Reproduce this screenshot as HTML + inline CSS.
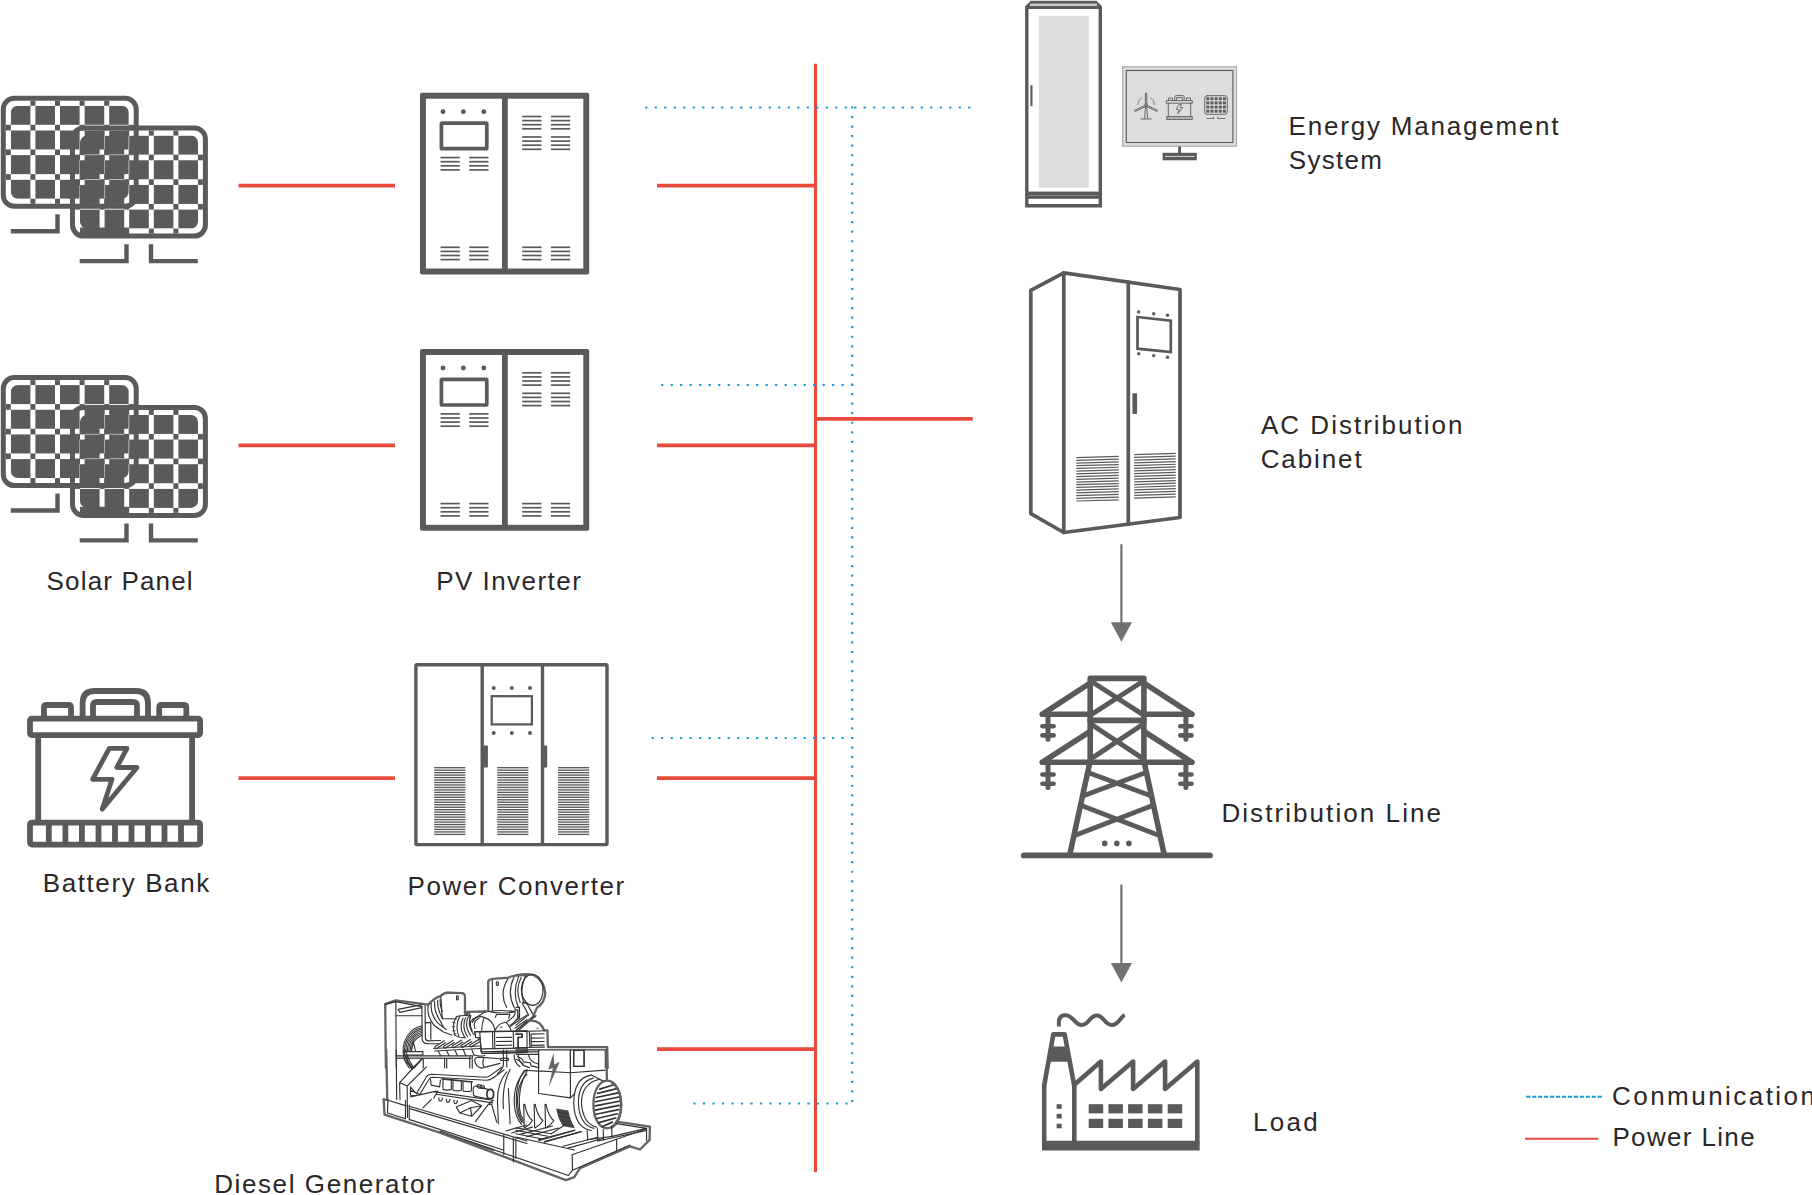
<!DOCTYPE html>
<html lang="en">
<head>
<meta charset="utf-8">
<title>Microgrid System Diagram</title>
<style>
html,body{margin:0;padding:0;background:#fff;}
body{width:1812px;height:1195px;overflow:hidden;position:relative;font-family:"Liberation Sans",sans-serif;}
svg{position:absolute;left:0;top:0;display:block;}
text{font-family:"Liberation Sans",sans-serif;font-size:26px;fill:#2b2728;}
</style>
</head>
<body>
<svg width="1812" height="1195" viewBox="0 0 1812 1195">
<g id="power-lines" stroke="#e84a3b" fill="none">
<line x1="815.5" y1="63.7" x2="815.5" y2="1172.3" stroke-width="3.1"/>
<line x1="657" y1="185.6" x2="815" y2="185.6" stroke-width="3.8"/>
<line x1="657" y1="445.3" x2="815" y2="445.3" stroke-width="3.8"/>
<line x1="657" y1="778.1" x2="815" y2="778.1" stroke-width="3.8"/>
<line x1="657" y1="1049.2" x2="815" y2="1049.2" stroke-width="3.8"/>
<line x1="238.5" y1="185.6" x2="395" y2="185.6" stroke-width="3.8"/>
<line x1="238.5" y1="445.3" x2="395" y2="445.3" stroke-width="3.8"/>
<line x1="238.5" y1="778.1" x2="395" y2="778.1" stroke-width="3.8"/>
<line x1="815" y1="418.9" x2="972.7" y2="418.9" stroke-width="3.8"/>
</g>
<g id="comm-lines" stroke="#189bd7" fill="none" stroke-width="2.2" stroke-dasharray="2.2 7.3">
<line x1="645.2" y1="107.5" x2="971" y2="107.5"/>
<line x1="852.2" y1="106.4" x2="852.2" y2="1102.6" stroke-dasharray="2.2 7.353"/>
<line x1="853.3" y1="385" x2="659.5" y2="385"/>
<line x1="853.3" y1="738" x2="651" y2="738"/>
<line x1="693.4" y1="1103.5" x2="848.5" y2="1103.5"/>
</g>
<g id="solar-1">
<rect x="3.3" y="98.3" width="132.9" height="108" rx="11" ry="11" fill="none" stroke="#5b5a5a" stroke-width="5"/>
<clipPath id="cpa1"><rect x="10.8" y="105.8" width="118" height="93.01" rx="7" ry="7"/></clipPath>
<g clip-path="url(#cpa1)" fill="#5b5a5a">
<rect x="10.8" y="105.8" width="19.6" height="19"/>
<rect x="35.4" y="105.8" width="19.6" height="19"/>
<rect x="60" y="105.8" width="19.6" height="19"/>
<rect x="84.6" y="105.8" width="19.6" height="19"/>
<rect x="109.2" y="105.8" width="19.6" height="19"/>
<rect x="10.8" y="130.47" width="19.6" height="19"/>
<rect x="35.4" y="130.47" width="19.6" height="19"/>
<rect x="60" y="130.47" width="19.6" height="19"/>
<rect x="84.6" y="130.47" width="19.6" height="19"/>
<rect x="109.2" y="130.47" width="19.6" height="19"/>
<rect x="10.8" y="155.14" width="19.6" height="19"/>
<rect x="35.4" y="155.14" width="19.6" height="19"/>
<rect x="60" y="155.14" width="19.6" height="19"/>
<rect x="84.6" y="155.14" width="19.6" height="19"/>
<rect x="109.2" y="155.14" width="19.6" height="19"/>
<rect x="10.8" y="179.81" width="19.6" height="19"/>
<rect x="35.4" y="179.81" width="19.6" height="19"/>
<rect x="60" y="179.81" width="19.6" height="19"/>
<rect x="84.6" y="179.81" width="19.6" height="19"/>
<rect x="109.2" y="179.81" width="19.6" height="19"/>
</g>
<g fill="#5b5a5a">
<rect x="5.8" y="124.8" width="5" height="5.67"/>
<rect x="5.8" y="149.47" width="5" height="5.67"/>
<rect x="5.8" y="174.14" width="5" height="5.67"/>
<rect x="30.4" y="100.8" width="5" height="5"/>
<rect x="30.4" y="124.8" width="5" height="5.67"/>
<rect x="30.4" y="149.47" width="5" height="5.67"/>
<rect x="30.4" y="174.14" width="5" height="5.67"/>
<rect x="30.4" y="198.8" width="5" height="5"/>
<rect x="55" y="100.8" width="5" height="5"/>
<rect x="55" y="124.8" width="5" height="5.67"/>
<rect x="55" y="149.47" width="5" height="5.67"/>
<rect x="55" y="174.14" width="5" height="5.67"/>
<rect x="55" y="198.8" width="5" height="5"/>
<rect x="79.6" y="100.8" width="5" height="5"/>
<rect x="79.6" y="124.8" width="5" height="5.67"/>
<rect x="79.6" y="149.47" width="5" height="5.67"/>
<rect x="79.6" y="174.14" width="5" height="5.67"/>
<rect x="79.6" y="198.8" width="5" height="5"/>
<rect x="104.2" y="100.8" width="5" height="5"/>
<rect x="104.2" y="124.8" width="5" height="5.67"/>
<rect x="104.2" y="149.47" width="5" height="5.67"/>
<rect x="104.2" y="174.14" width="5" height="5.67"/>
<rect x="104.2" y="198.8" width="5" height="5"/>
<rect x="128.7" y="124.8" width="5" height="5.67"/>
<rect x="128.7" y="149.47" width="5" height="5.67"/>
<rect x="128.7" y="174.14" width="5" height="5.67"/>
</g>
<rect x="72.5" y="128.1" width="132.9" height="108" rx="11" ry="11" fill="none" stroke="#5b5a5a" stroke-width="5"/>
<clipPath id="cpb1"><rect x="80" y="135.6" width="118" height="93.01" rx="7" ry="7"/></clipPath>
<g clip-path="url(#cpb1)" fill="#5b5a5a">
<rect x="80" y="135.6" width="19.6" height="19"/>
<rect x="104.6" y="135.6" width="19.6" height="19"/>
<rect x="129.2" y="135.6" width="19.6" height="19"/>
<rect x="153.8" y="135.6" width="19.6" height="19"/>
<rect x="178.4" y="135.6" width="19.6" height="19"/>
<rect x="80" y="160.27" width="19.6" height="19"/>
<rect x="104.6" y="160.27" width="19.6" height="19"/>
<rect x="129.2" y="160.27" width="19.6" height="19"/>
<rect x="153.8" y="160.27" width="19.6" height="19"/>
<rect x="178.4" y="160.27" width="19.6" height="19"/>
<rect x="80" y="184.94" width="19.6" height="19"/>
<rect x="104.6" y="184.94" width="19.6" height="19"/>
<rect x="129.2" y="184.94" width="19.6" height="19"/>
<rect x="153.8" y="184.94" width="19.6" height="19"/>
<rect x="178.4" y="184.94" width="19.6" height="19"/>
<rect x="80" y="209.61" width="19.6" height="19"/>
<rect x="104.6" y="209.61" width="19.6" height="19"/>
<rect x="129.2" y="209.61" width="19.6" height="19"/>
<rect x="153.8" y="209.61" width="19.6" height="19"/>
<rect x="178.4" y="209.61" width="19.6" height="19"/>
</g>
<g fill="#5b5a5a">
<rect x="75" y="154.6" width="5" height="5.67"/>
<rect x="75" y="179.27" width="5" height="5.67"/>
<rect x="75" y="203.94" width="5" height="5.67"/>
<rect x="99.6" y="130.6" width="5" height="5"/>
<rect x="99.6" y="154.6" width="5" height="5.67"/>
<rect x="99.6" y="179.27" width="5" height="5.67"/>
<rect x="99.6" y="203.94" width="5" height="5.67"/>
<rect x="99.6" y="228.6" width="5" height="5"/>
<rect x="124.2" y="130.6" width="5" height="5"/>
<rect x="124.2" y="154.6" width="5" height="5.67"/>
<rect x="124.2" y="179.27" width="5" height="5.67"/>
<rect x="124.2" y="203.94" width="5" height="5.67"/>
<rect x="124.2" y="228.6" width="5" height="5"/>
<rect x="148.8" y="130.6" width="5" height="5"/>
<rect x="148.8" y="154.6" width="5" height="5.67"/>
<rect x="148.8" y="179.27" width="5" height="5.67"/>
<rect x="148.8" y="203.94" width="5" height="5.67"/>
<rect x="148.8" y="228.6" width="5" height="5"/>
<rect x="173.4" y="130.6" width="5" height="5"/>
<rect x="173.4" y="154.6" width="5" height="5.67"/>
<rect x="173.4" y="179.27" width="5" height="5.67"/>
<rect x="173.4" y="203.94" width="5" height="5.67"/>
<rect x="173.4" y="228.6" width="5" height="5"/>
<rect x="197.9" y="154.6" width="5" height="5.67"/>
<rect x="197.9" y="179.27" width="5" height="5.67"/>
<rect x="197.9" y="203.94" width="5" height="5.67"/>
</g>
<rect x="80" y="227.5" width="49" height="6.5" fill="#5b5a5a"/>
<g fill="none" stroke="#5b5a5a" stroke-width="4.4">
<polyline points="10.8,231.2 57.5,231.2 57.5,214.2"/>
<polyline points="79.7,261.1 126.5,261.1 126.5,244.2"/>
<polyline points="197.8,261.1 151,261.1 151,244.2"/>
</g>
</g>
<g id="solar-2">
<rect x="3.3" y="377.6" width="132.9" height="108" rx="11" ry="11" fill="none" stroke="#5b5a5a" stroke-width="5"/>
<clipPath id="cpa2"><rect x="10.8" y="385.1" width="118" height="93.01" rx="7" ry="7"/></clipPath>
<g clip-path="url(#cpa2)" fill="#5b5a5a">
<rect x="10.8" y="385.1" width="19.6" height="19"/>
<rect x="35.4" y="385.1" width="19.6" height="19"/>
<rect x="60" y="385.1" width="19.6" height="19"/>
<rect x="84.6" y="385.1" width="19.6" height="19"/>
<rect x="109.2" y="385.1" width="19.6" height="19"/>
<rect x="10.8" y="409.77" width="19.6" height="19"/>
<rect x="35.4" y="409.77" width="19.6" height="19"/>
<rect x="60" y="409.77" width="19.6" height="19"/>
<rect x="84.6" y="409.77" width="19.6" height="19"/>
<rect x="109.2" y="409.77" width="19.6" height="19"/>
<rect x="10.8" y="434.44" width="19.6" height="19"/>
<rect x="35.4" y="434.44" width="19.6" height="19"/>
<rect x="60" y="434.44" width="19.6" height="19"/>
<rect x="84.6" y="434.44" width="19.6" height="19"/>
<rect x="109.2" y="434.44" width="19.6" height="19"/>
<rect x="10.8" y="459.11" width="19.6" height="19"/>
<rect x="35.4" y="459.11" width="19.6" height="19"/>
<rect x="60" y="459.11" width="19.6" height="19"/>
<rect x="84.6" y="459.11" width="19.6" height="19"/>
<rect x="109.2" y="459.11" width="19.6" height="19"/>
</g>
<g fill="#5b5a5a">
<rect x="5.8" y="404.1" width="5" height="5.67"/>
<rect x="5.8" y="428.77" width="5" height="5.67"/>
<rect x="5.8" y="453.44" width="5" height="5.67"/>
<rect x="30.4" y="380.1" width="5" height="5"/>
<rect x="30.4" y="404.1" width="5" height="5.67"/>
<rect x="30.4" y="428.77" width="5" height="5.67"/>
<rect x="30.4" y="453.44" width="5" height="5.67"/>
<rect x="30.4" y="478.1" width="5" height="5"/>
<rect x="55" y="380.1" width="5" height="5"/>
<rect x="55" y="404.1" width="5" height="5.67"/>
<rect x="55" y="428.77" width="5" height="5.67"/>
<rect x="55" y="453.44" width="5" height="5.67"/>
<rect x="55" y="478.1" width="5" height="5"/>
<rect x="79.6" y="380.1" width="5" height="5"/>
<rect x="79.6" y="404.1" width="5" height="5.67"/>
<rect x="79.6" y="428.77" width="5" height="5.67"/>
<rect x="79.6" y="453.44" width="5" height="5.67"/>
<rect x="79.6" y="478.1" width="5" height="5"/>
<rect x="104.2" y="380.1" width="5" height="5"/>
<rect x="104.2" y="404.1" width="5" height="5.67"/>
<rect x="104.2" y="428.77" width="5" height="5.67"/>
<rect x="104.2" y="453.44" width="5" height="5.67"/>
<rect x="104.2" y="478.1" width="5" height="5"/>
<rect x="128.7" y="404.1" width="5" height="5.67"/>
<rect x="128.7" y="428.77" width="5" height="5.67"/>
<rect x="128.7" y="453.44" width="5" height="5.67"/>
</g>
<rect x="72.5" y="407.4" width="132.9" height="108" rx="11" ry="11" fill="none" stroke="#5b5a5a" stroke-width="5"/>
<clipPath id="cpb2"><rect x="80" y="414.9" width="118" height="93.01" rx="7" ry="7"/></clipPath>
<g clip-path="url(#cpb2)" fill="#5b5a5a">
<rect x="80" y="414.9" width="19.6" height="19"/>
<rect x="104.6" y="414.9" width="19.6" height="19"/>
<rect x="129.2" y="414.9" width="19.6" height="19"/>
<rect x="153.8" y="414.9" width="19.6" height="19"/>
<rect x="178.4" y="414.9" width="19.6" height="19"/>
<rect x="80" y="439.57" width="19.6" height="19"/>
<rect x="104.6" y="439.57" width="19.6" height="19"/>
<rect x="129.2" y="439.57" width="19.6" height="19"/>
<rect x="153.8" y="439.57" width="19.6" height="19"/>
<rect x="178.4" y="439.57" width="19.6" height="19"/>
<rect x="80" y="464.24" width="19.6" height="19"/>
<rect x="104.6" y="464.24" width="19.6" height="19"/>
<rect x="129.2" y="464.24" width="19.6" height="19"/>
<rect x="153.8" y="464.24" width="19.6" height="19"/>
<rect x="178.4" y="464.24" width="19.6" height="19"/>
<rect x="80" y="488.91" width="19.6" height="19"/>
<rect x="104.6" y="488.91" width="19.6" height="19"/>
<rect x="129.2" y="488.91" width="19.6" height="19"/>
<rect x="153.8" y="488.91" width="19.6" height="19"/>
<rect x="178.4" y="488.91" width="19.6" height="19"/>
</g>
<g fill="#5b5a5a">
<rect x="75" y="433.9" width="5" height="5.67"/>
<rect x="75" y="458.57" width="5" height="5.67"/>
<rect x="75" y="483.24" width="5" height="5.67"/>
<rect x="99.6" y="409.9" width="5" height="5"/>
<rect x="99.6" y="433.9" width="5" height="5.67"/>
<rect x="99.6" y="458.57" width="5" height="5.67"/>
<rect x="99.6" y="483.24" width="5" height="5.67"/>
<rect x="99.6" y="507.9" width="5" height="5"/>
<rect x="124.2" y="409.9" width="5" height="5"/>
<rect x="124.2" y="433.9" width="5" height="5.67"/>
<rect x="124.2" y="458.57" width="5" height="5.67"/>
<rect x="124.2" y="483.24" width="5" height="5.67"/>
<rect x="124.2" y="507.9" width="5" height="5"/>
<rect x="148.8" y="409.9" width="5" height="5"/>
<rect x="148.8" y="433.9" width="5" height="5.67"/>
<rect x="148.8" y="458.57" width="5" height="5.67"/>
<rect x="148.8" y="483.24" width="5" height="5.67"/>
<rect x="148.8" y="507.9" width="5" height="5"/>
<rect x="173.4" y="409.9" width="5" height="5"/>
<rect x="173.4" y="433.9" width="5" height="5.67"/>
<rect x="173.4" y="458.57" width="5" height="5.67"/>
<rect x="173.4" y="483.24" width="5" height="5.67"/>
<rect x="173.4" y="507.9" width="5" height="5"/>
<rect x="197.9" y="433.9" width="5" height="5.67"/>
<rect x="197.9" y="458.57" width="5" height="5.67"/>
<rect x="197.9" y="483.24" width="5" height="5.67"/>
</g>
<rect x="80" y="506.8" width="49" height="6.5" fill="#5b5a5a"/>
<g fill="none" stroke="#5b5a5a" stroke-width="4.4">
<polyline points="10.8,510.5 57.5,510.5 57.5,493.5"/>
<polyline points="79.7,540.4 126.5,540.4 126.5,523.5"/>
<polyline points="197.8,540.4 151,540.4 151,523.5"/>
</g>
</g>
<g id="pv-inverter-1">
<rect x="420" y="92.8" width="169.2" height="181.6" rx="2" fill="#5b5a5a"/>
<rect x="425.9" y="98.7" width="76.1" height="169.8" fill="#fff"/>
<rect x="507.8" y="98.7" width="75.5" height="169.8" fill="#fff"/>
<circle cx="443" cy="111.7" r="2.4" fill="#5b5a5a"/>
<circle cx="463.4" cy="111.7" r="2.4" fill="#5b5a5a"/>
<circle cx="483.8" cy="111.7" r="2.4" fill="#5b5a5a"/>
<rect x="441.4" y="123.1" width="45.4" height="25.6" rx="1" fill="none" stroke="#5b5a5a" stroke-width="3.7" stroke-linejoin="round"/>
<g stroke="#5b5a5a" stroke-width="1.7" fill="none">
<line x1="440.5" y1="157.6" x2="459.8" y2="157.6"/><line x1="440.5" y1="161.7" x2="459.8" y2="161.7"/><line x1="440.5" y1="165.8" x2="459.8" y2="165.8"/><line x1="440.5" y1="169.9" x2="459.8" y2="169.9"/>
<line x1="440.5" y1="247.3" x2="459.8" y2="247.3"/><line x1="440.5" y1="251.4" x2="459.8" y2="251.4"/><line x1="440.5" y1="255.5" x2="459.8" y2="255.5"/><line x1="440.5" y1="259.6" x2="459.8" y2="259.6"/>
<line x1="469.2" y1="157.6" x2="488.5" y2="157.6"/><line x1="469.2" y1="161.7" x2="488.5" y2="161.7"/><line x1="469.2" y1="165.8" x2="488.5" y2="165.8"/><line x1="469.2" y1="169.9" x2="488.5" y2="169.9"/>
<line x1="469.2" y1="247.3" x2="488.5" y2="247.3"/><line x1="469.2" y1="251.4" x2="488.5" y2="251.4"/><line x1="469.2" y1="255.5" x2="488.5" y2="255.5"/><line x1="469.2" y1="259.6" x2="488.5" y2="259.6"/>
<line x1="522.2" y1="116.5" x2="541.5" y2="116.5"/><line x1="522.2" y1="120.6" x2="541.5" y2="120.6"/><line x1="522.2" y1="124.7" x2="541.5" y2="124.7"/><line x1="522.2" y1="128.8" x2="541.5" y2="128.8"/>
<line x1="522.2" y1="137" x2="541.5" y2="137"/><line x1="522.2" y1="141.1" x2="541.5" y2="141.1"/><line x1="522.2" y1="145.2" x2="541.5" y2="145.2"/><line x1="522.2" y1="149.3" x2="541.5" y2="149.3"/>
<line x1="522.2" y1="247.3" x2="541.5" y2="247.3"/><line x1="522.2" y1="251.4" x2="541.5" y2="251.4"/><line x1="522.2" y1="255.5" x2="541.5" y2="255.5"/><line x1="522.2" y1="259.6" x2="541.5" y2="259.6"/>
<line x1="550.9" y1="116.5" x2="570.2" y2="116.5"/><line x1="550.9" y1="120.6" x2="570.2" y2="120.6"/><line x1="550.9" y1="124.7" x2="570.2" y2="124.7"/><line x1="550.9" y1="128.8" x2="570.2" y2="128.8"/>
<line x1="550.9" y1="137" x2="570.2" y2="137"/><line x1="550.9" y1="141.1" x2="570.2" y2="141.1"/><line x1="550.9" y1="145.2" x2="570.2" y2="145.2"/><line x1="550.9" y1="149.3" x2="570.2" y2="149.3"/>
<line x1="550.9" y1="247.3" x2="570.2" y2="247.3"/><line x1="550.9" y1="251.4" x2="570.2" y2="251.4"/><line x1="550.9" y1="255.5" x2="570.2" y2="255.5"/><line x1="550.9" y1="259.6" x2="570.2" y2="259.6"/>
</g>
</g>
<g id="pv-inverter-2">
<rect x="420" y="349.1" width="169.2" height="181.6" rx="2" fill="#5b5a5a"/>
<rect x="425.9" y="355" width="76.1" height="169.8" fill="#fff"/>
<rect x="507.8" y="355" width="75.5" height="169.8" fill="#fff"/>
<circle cx="443" cy="368" r="2.4" fill="#5b5a5a"/>
<circle cx="463.4" cy="368" r="2.4" fill="#5b5a5a"/>
<circle cx="483.8" cy="368" r="2.4" fill="#5b5a5a"/>
<rect x="441.4" y="379.4" width="45.4" height="25.6" rx="1" fill="none" stroke="#5b5a5a" stroke-width="3.7" stroke-linejoin="round"/>
<g stroke="#5b5a5a" stroke-width="1.7" fill="none">
<line x1="440.5" y1="413.9" x2="459.8" y2="413.9"/><line x1="440.5" y1="418" x2="459.8" y2="418"/><line x1="440.5" y1="422.1" x2="459.8" y2="422.1"/><line x1="440.5" y1="426.2" x2="459.8" y2="426.2"/>
<line x1="440.5" y1="503.6" x2="459.8" y2="503.6"/><line x1="440.5" y1="507.7" x2="459.8" y2="507.7"/><line x1="440.5" y1="511.8" x2="459.8" y2="511.8"/><line x1="440.5" y1="515.9" x2="459.8" y2="515.9"/>
<line x1="469.2" y1="413.9" x2="488.5" y2="413.9"/><line x1="469.2" y1="418" x2="488.5" y2="418"/><line x1="469.2" y1="422.1" x2="488.5" y2="422.1"/><line x1="469.2" y1="426.2" x2="488.5" y2="426.2"/>
<line x1="469.2" y1="503.6" x2="488.5" y2="503.6"/><line x1="469.2" y1="507.7" x2="488.5" y2="507.7"/><line x1="469.2" y1="511.8" x2="488.5" y2="511.8"/><line x1="469.2" y1="515.9" x2="488.5" y2="515.9"/>
<line x1="522.2" y1="372.8" x2="541.5" y2="372.8"/><line x1="522.2" y1="376.9" x2="541.5" y2="376.9"/><line x1="522.2" y1="381" x2="541.5" y2="381"/><line x1="522.2" y1="385.1" x2="541.5" y2="385.1"/>
<line x1="522.2" y1="393.3" x2="541.5" y2="393.3"/><line x1="522.2" y1="397.4" x2="541.5" y2="397.4"/><line x1="522.2" y1="401.5" x2="541.5" y2="401.5"/><line x1="522.2" y1="405.6" x2="541.5" y2="405.6"/>
<line x1="522.2" y1="503.6" x2="541.5" y2="503.6"/><line x1="522.2" y1="507.7" x2="541.5" y2="507.7"/><line x1="522.2" y1="511.8" x2="541.5" y2="511.8"/><line x1="522.2" y1="515.9" x2="541.5" y2="515.9"/>
<line x1="550.9" y1="372.8" x2="570.2" y2="372.8"/><line x1="550.9" y1="376.9" x2="570.2" y2="376.9"/><line x1="550.9" y1="381" x2="570.2" y2="381"/><line x1="550.9" y1="385.1" x2="570.2" y2="385.1"/>
<line x1="550.9" y1="393.3" x2="570.2" y2="393.3"/><line x1="550.9" y1="397.4" x2="570.2" y2="397.4"/><line x1="550.9" y1="401.5" x2="570.2" y2="401.5"/><line x1="550.9" y1="405.6" x2="570.2" y2="405.6"/>
<line x1="550.9" y1="503.6" x2="570.2" y2="503.6"/><line x1="550.9" y1="507.7" x2="570.2" y2="507.7"/><line x1="550.9" y1="511.8" x2="570.2" y2="511.8"/><line x1="550.9" y1="515.9" x2="570.2" y2="515.9"/>
</g>
</g>
<g id="power-converter">
<rect x="415.9" y="664.7" width="191.1" height="179.9" rx="1" fill="#fff" stroke="#5b5a5a" stroke-width="3.4" stroke-linejoin="round"/>
<line x1="482.2" y1="664" x2="482.2" y2="845.3" stroke="#5b5a5a" stroke-width="3.4"/>
<line x1="542.5" y1="664" x2="542.5" y2="845.3" stroke="#5b5a5a" stroke-width="3.4"/>
<circle cx="493.7" cy="688" r="2" fill="#5b5a5a"/>
<circle cx="511.8" cy="688" r="2" fill="#5b5a5a"/>
<circle cx="530" cy="688" r="2" fill="#5b5a5a"/>
<circle cx="493.7" cy="733" r="2" fill="#5b5a5a"/>
<circle cx="511.8" cy="733" r="2" fill="#5b5a5a"/>
<circle cx="530" cy="733" r="2" fill="#5b5a5a"/>
<rect x="491.7" y="696.2" width="40.2" height="28.2" fill="none" stroke="#5b5a5a" stroke-width="2.3"/>
<rect x="482.6" y="745.5" width="5.3" height="22" rx="0.8" fill="#5b5a5a"/>
<rect x="542.6" y="745.5" width="4.6" height="22" rx="0.8" fill="#5b5a5a"/>
<g stroke="#5b5a5a" stroke-width="1.35" fill="none">
<line x1="434.2" y1="767.7" x2="465.4" y2="767.7"/><line x1="434.2" y1="770.17" x2="465.4" y2="770.17"/><line x1="434.2" y1="772.64" x2="465.4" y2="772.64"/><line x1="434.2" y1="775.11" x2="465.4" y2="775.11"/><line x1="434.2" y1="777.58" x2="465.4" y2="777.58"/><line x1="434.2" y1="780.05" x2="465.4" y2="780.05"/><line x1="434.2" y1="782.52" x2="465.4" y2="782.52"/><line x1="434.2" y1="784.99" x2="465.4" y2="784.99"/><line x1="434.2" y1="787.46" x2="465.4" y2="787.46"/><line x1="434.2" y1="789.93" x2="465.4" y2="789.93"/><line x1="434.2" y1="792.4" x2="465.4" y2="792.4"/><line x1="434.2" y1="794.87" x2="465.4" y2="794.87"/><line x1="434.2" y1="797.34" x2="465.4" y2="797.34"/><line x1="434.2" y1="799.81" x2="465.4" y2="799.81"/><line x1="434.2" y1="802.29" x2="465.4" y2="802.29"/><line x1="434.2" y1="804.76" x2="465.4" y2="804.76"/><line x1="434.2" y1="807.23" x2="465.4" y2="807.23"/><line x1="434.2" y1="809.7" x2="465.4" y2="809.7"/><line x1="434.2" y1="812.17" x2="465.4" y2="812.17"/><line x1="434.2" y1="814.64" x2="465.4" y2="814.64"/><line x1="434.2" y1="817.11" x2="465.4" y2="817.11"/><line x1="434.2" y1="819.58" x2="465.4" y2="819.58"/><line x1="434.2" y1="822.05" x2="465.4" y2="822.05"/><line x1="434.2" y1="824.52" x2="465.4" y2="824.52"/><line x1="434.2" y1="826.99" x2="465.4" y2="826.99"/><line x1="434.2" y1="829.46" x2="465.4" y2="829.46"/><line x1="434.2" y1="831.93" x2="465.4" y2="831.93"/><line x1="434.2" y1="834.4" x2="465.4" y2="834.4"/>
<line x1="497.2" y1="767.7" x2="528.4" y2="767.7"/><line x1="497.2" y1="770.17" x2="528.4" y2="770.17"/><line x1="497.2" y1="772.64" x2="528.4" y2="772.64"/><line x1="497.2" y1="775.11" x2="528.4" y2="775.11"/><line x1="497.2" y1="777.58" x2="528.4" y2="777.58"/><line x1="497.2" y1="780.05" x2="528.4" y2="780.05"/><line x1="497.2" y1="782.52" x2="528.4" y2="782.52"/><line x1="497.2" y1="784.99" x2="528.4" y2="784.99"/><line x1="497.2" y1="787.46" x2="528.4" y2="787.46"/><line x1="497.2" y1="789.93" x2="528.4" y2="789.93"/><line x1="497.2" y1="792.4" x2="528.4" y2="792.4"/><line x1="497.2" y1="794.87" x2="528.4" y2="794.87"/><line x1="497.2" y1="797.34" x2="528.4" y2="797.34"/><line x1="497.2" y1="799.81" x2="528.4" y2="799.81"/><line x1="497.2" y1="802.29" x2="528.4" y2="802.29"/><line x1="497.2" y1="804.76" x2="528.4" y2="804.76"/><line x1="497.2" y1="807.23" x2="528.4" y2="807.23"/><line x1="497.2" y1="809.7" x2="528.4" y2="809.7"/><line x1="497.2" y1="812.17" x2="528.4" y2="812.17"/><line x1="497.2" y1="814.64" x2="528.4" y2="814.64"/><line x1="497.2" y1="817.11" x2="528.4" y2="817.11"/><line x1="497.2" y1="819.58" x2="528.4" y2="819.58"/><line x1="497.2" y1="822.05" x2="528.4" y2="822.05"/><line x1="497.2" y1="824.52" x2="528.4" y2="824.52"/><line x1="497.2" y1="826.99" x2="528.4" y2="826.99"/><line x1="497.2" y1="829.46" x2="528.4" y2="829.46"/><line x1="497.2" y1="831.93" x2="528.4" y2="831.93"/><line x1="497.2" y1="834.4" x2="528.4" y2="834.4"/>
<line x1="558" y1="767.7" x2="589.2" y2="767.7"/><line x1="558" y1="770.17" x2="589.2" y2="770.17"/><line x1="558" y1="772.64" x2="589.2" y2="772.64"/><line x1="558" y1="775.11" x2="589.2" y2="775.11"/><line x1="558" y1="777.58" x2="589.2" y2="777.58"/><line x1="558" y1="780.05" x2="589.2" y2="780.05"/><line x1="558" y1="782.52" x2="589.2" y2="782.52"/><line x1="558" y1="784.99" x2="589.2" y2="784.99"/><line x1="558" y1="787.46" x2="589.2" y2="787.46"/><line x1="558" y1="789.93" x2="589.2" y2="789.93"/><line x1="558" y1="792.4" x2="589.2" y2="792.4"/><line x1="558" y1="794.87" x2="589.2" y2="794.87"/><line x1="558" y1="797.34" x2="589.2" y2="797.34"/><line x1="558" y1="799.81" x2="589.2" y2="799.81"/><line x1="558" y1="802.29" x2="589.2" y2="802.29"/><line x1="558" y1="804.76" x2="589.2" y2="804.76"/><line x1="558" y1="807.23" x2="589.2" y2="807.23"/><line x1="558" y1="809.7" x2="589.2" y2="809.7"/><line x1="558" y1="812.17" x2="589.2" y2="812.17"/><line x1="558" y1="814.64" x2="589.2" y2="814.64"/><line x1="558" y1="817.11" x2="589.2" y2="817.11"/><line x1="558" y1="819.58" x2="589.2" y2="819.58"/><line x1="558" y1="822.05" x2="589.2" y2="822.05"/><line x1="558" y1="824.52" x2="589.2" y2="824.52"/><line x1="558" y1="826.99" x2="589.2" y2="826.99"/><line x1="558" y1="829.46" x2="589.2" y2="829.46"/><line x1="558" y1="831.93" x2="589.2" y2="831.93"/><line x1="558" y1="834.4" x2="589.2" y2="834.4"/>
</g>
</g>
<g id="ems-rack">
<path d="M1026.8,205.7 L1026.8,7 L1031.5,2.4 L1095.7,2.4 L1100.3,7 L1100.3,205.7 Z" fill="#fff" stroke="#5b5a5a" stroke-width="3.4" stroke-linejoin="miter"/>
<rect x="1030" y="3.6" width="67" height="2.6" fill="#c9caca"/>
<line x1="1027" y1="7.6" x2="1100" y2="7.6" stroke="#5b5a5a" stroke-width="3"/>
<rect x="1038.9" y="15.8" width="49.9" height="171.9" fill="#dcdddd"/>
<rect x="1030.4" y="85.2" width="2.1" height="21" fill="#5b5a5a"/>
<rect x="1027" y="191.6" width="73" height="7.2" fill="#5b5a5a"/>
<rect x="1028.5" y="195.1" width="70" height="0.7" fill="#8f8f8f"/>
</g>
<g id="ems-monitor">
<rect x="1122.7" y="66.8" width="113.8" height="79.4" fill="#dcdddd" stroke="#a9aaaa" stroke-width="1.2"/>
<rect x="1126.3" y="70.5" width="106.6" height="72" fill="none" stroke="#5b5a5a" stroke-width="1.1"/>
<rect x="1178.1" y="146.5" width="2.9" height="7" fill="#5b5a5a"/>
<rect x="1162.6" y="152.8" width="34.2" height="7.5" fill="#5b5a5a"/>
<rect x="1165" y="155.9" width="29.4" height="1.1" fill="#c9caca"/>
<g stroke="#5b5a5a" fill="none" stroke-width="0.9" stroke-linecap="round" stroke-linejoin="round">
<path d="M1144.6,118.6 L1145.5,106.5 M1147.6,118.6 L1146.7,106.5 M1141,119 L1151.2,119"/>
<path d="M1145.3,103.6 L1145.5,93 L1146.7,93 L1146.9,103.6 Z"/>
<path d="M1144.8,105.6 L1134.5,110.4 L1135.2,111.5 L1145.4,106.6 Z"/>
<path d="M1147.4,105.6 L1157.7,110.4 L1157,111.5 L1146.8,106.6 Z"/>
<circle cx="1146.1" cy="105.1" r="1.3"/>
<path d="M1141.5,97.6 A9.5,9.5 0 0 0 1137.6,104.6 M1150.7,97.6 A9.5,9.5 0 0 1 1154.6,104.6" stroke-width="0.7"/>
<rect x="1166.7" y="100.6" width="25.6" height="2.6"/>
<path d="M1168.3,103.2 V116.5 M1190.7,103.2 V116.5"/>
<rect x="1166.7" y="116.5" width="25.6" height="3" stroke-dasharray="1.6 0.9"/>
<rect x="1166.7" y="117" width="25.6" height="2" fill="#5b5a5a" stroke="none" opacity="0.35"/>
<path d="M1168.6,100.6 V98 H1172.6 V100.6 M1186.4,100.6 V98 H1190.4 V100.6"/>
<path d="M1174.8,100.6 V97 Q1174.8,95.6 1176.2,95.6 H1182.8 Q1184.2,95.6 1184.2,97 V100.6 M1176.6,100.6 V97.6 H1182.4 V100.6"/>
<path d="M1179.3,104.6 L1181.6,104.6 L1180.2,107.6 L1182.8,107.6 L1177.8,113.8 L1179.2,109.4 L1176.6,109.4 Z" stroke-width="0.8"/>
<rect x="1204.7" y="95.7" width="22.6" height="18.6" rx="2.4"/>
</g>
<g fill="#5b5a5a">
<rect x="1206.3" y="97.3" width="3" height="2.9"/>
<rect x="1210.45" y="97.3" width="3" height="2.9"/>
<rect x="1214.6" y="97.3" width="3" height="2.9"/>
<rect x="1218.75" y="97.3" width="3" height="2.9"/>
<rect x="1222.9" y="97.3" width="3" height="2.9"/>
<rect x="1206.3" y="101.45" width="3" height="2.9"/>
<rect x="1210.45" y="101.45" width="3" height="2.9"/>
<rect x="1214.6" y="101.45" width="3" height="2.9"/>
<rect x="1218.75" y="101.45" width="3" height="2.9"/>
<rect x="1222.9" y="101.45" width="3" height="2.9"/>
<rect x="1206.3" y="105.6" width="3" height="2.9"/>
<rect x="1210.45" y="105.6" width="3" height="2.9"/>
<rect x="1214.6" y="105.6" width="3" height="2.9"/>
<rect x="1218.75" y="105.6" width="3" height="2.9"/>
<rect x="1222.9" y="105.6" width="3" height="2.9"/>
<rect x="1206.3" y="109.75" width="3" height="2.9"/>
<rect x="1210.45" y="109.75" width="3" height="2.9"/>
<rect x="1214.6" y="109.75" width="3" height="2.9"/>
<rect x="1218.75" y="109.75" width="3" height="2.9"/>
<rect x="1222.9" y="109.75" width="3" height="2.9"/>
<rect x="1206.5" y="118" width="7.5" height="0.8"/><rect x="1217.5" y="118" width="8" height="0.8"/>
<rect x="1213" y="116.6" width="0.8" height="2"/><rect x="1217.5" y="116.6" width="0.8" height="2"/>
</g>
</g>
<g id="ac-cabinet" fill="none" stroke="#5b5a5a" stroke-linejoin="round" stroke-linecap="round">
<path d="M1063.8,272.8 L1180,289.5 L1180,517.5 L1063.8,532.5 L1030.8,513.7 L1030.8,290.3 Z" fill="#fff" stroke-width="3.7"/>
<path d="M1063.8,272.8 L1063.8,532.5 M1128.3,282.1 L1128.3,524.2" stroke-width="3.7"/>
<path d="M1137.5,317 L1170.8,320.7 L1170.8,352 L1137.5,348.7 Z" stroke-width="2.7" stroke-linejoin="miter"/>
</g>
<g fill="#5b5a5a">
<circle cx="1138.7" cy="312" r="1.7"/>
<circle cx="1153.7" cy="313.7" r="1.7"/>
<circle cx="1167.5" cy="315.3" r="1.7"/>
<circle cx="1138.7" cy="353.7" r="1.7"/>
<circle cx="1153.7" cy="355.6" r="1.7"/>
<circle cx="1167.5" cy="357.3" r="1.7"/>
<rect x="1132.4" y="393.3" width="4.7" height="20.8" rx="0.8"/>
</g>
<g stroke="#5b5a5a" stroke-width="1.25" fill="none">
<line x1="1076.3" y1="457.6" x2="1118.7" y2="456.4"/>
<line x1="1134.2" y1="454.7" x2="1175.8" y2="453.4"/>
<line x1="1076.3" y1="460.31" x2="1118.7" y2="459.11"/>
<line x1="1134.2" y1="457.41" x2="1175.8" y2="456.11"/>
<line x1="1076.3" y1="463.03" x2="1118.7" y2="461.83"/>
<line x1="1134.2" y1="460.12" x2="1175.8" y2="458.82"/>
<line x1="1076.3" y1="465.74" x2="1118.7" y2="464.54"/>
<line x1="1134.2" y1="462.84" x2="1175.8" y2="461.54"/>
<line x1="1076.3" y1="468.45" x2="1118.7" y2="467.25"/>
<line x1="1134.2" y1="465.55" x2="1175.8" y2="464.25"/>
<line x1="1076.3" y1="471.16" x2="1118.7" y2="469.96"/>
<line x1="1134.2" y1="468.26" x2="1175.8" y2="466.96"/>
<line x1="1076.3" y1="473.88" x2="1118.7" y2="472.68"/>
<line x1="1134.2" y1="470.98" x2="1175.8" y2="469.68"/>
<line x1="1076.3" y1="476.59" x2="1118.7" y2="475.39"/>
<line x1="1134.2" y1="473.69" x2="1175.8" y2="472.39"/>
<line x1="1076.3" y1="479.3" x2="1118.7" y2="478.1"/>
<line x1="1134.2" y1="476.4" x2="1175.8" y2="475.1"/>
<line x1="1076.3" y1="482.01" x2="1118.7" y2="480.81"/>
<line x1="1134.2" y1="479.11" x2="1175.8" y2="477.81"/>
<line x1="1076.3" y1="484.73" x2="1118.7" y2="483.53"/>
<line x1="1134.2" y1="481.82" x2="1175.8" y2="480.52"/>
<line x1="1076.3" y1="487.44" x2="1118.7" y2="486.24"/>
<line x1="1134.2" y1="484.54" x2="1175.8" y2="483.24"/>
<line x1="1076.3" y1="490.15" x2="1118.7" y2="488.95"/>
<line x1="1134.2" y1="487.25" x2="1175.8" y2="485.95"/>
<line x1="1076.3" y1="492.86" x2="1118.7" y2="491.66"/>
<line x1="1134.2" y1="489.96" x2="1175.8" y2="488.66"/>
<line x1="1076.3" y1="495.57" x2="1118.7" y2="494.38"/>
<line x1="1134.2" y1="492.68" x2="1175.8" y2="491.38"/>
<line x1="1076.3" y1="498.29" x2="1118.7" y2="497.09"/>
<line x1="1134.2" y1="495.39" x2="1175.8" y2="494.09"/>
<line x1="1076.3" y1="501" x2="1118.7" y2="499.8"/>
<line x1="1134.2" y1="498.1" x2="1175.8" y2="496.8"/>
</g>
<g id="arrows" fill="#727171" stroke="#727171">
<line x1="1121.4" y1="544.2" x2="1121.4" y2="624" stroke-width="2.2"/>
<path d="M1110.8,622.2 L1132,622.2 L1121.4,641.8 Z" stroke="none"/>
<line x1="1121.4" y1="884.6" x2="1121.4" y2="965" stroke-width="2.2"/>
<path d="M1110.8,963 L1132,963 L1121.4,982.6 Z" stroke="none"/>
</g>
<g id="tower" fill="none" stroke="#5b5a5a" stroke-width="5.6" stroke-linecap="round" stroke-linejoin="round">
<path d="M1090.2,762.5 L1090.2,678.4 L1143.9,678.4 L1143.9,762.5"/>
<path d="M1042.2,714.2 L1090.2,714.2 M1143.9,714.2 L1192,714.2 M1042.2,762.2 L1192,762.2"/>
<path d="M1043.6,713.4 L1090.2,683 M1190.6,713.4 L1143.9,683"/>
<path d="M1043.6,761.4 L1090.2,731.4 M1190.6,761.4 L1143.9,731.4"/>
<path d="M1090.2,720.4 L1143.9,720.4"/>
<path d="M1091.5,681.5 L1143,714.6 M1142.6,681.5 L1091.2,714.6" stroke-width="5"/>
<path d="M1091.5,724.5 L1143,758.6 M1142.6,724.5 L1091.2,758.6" stroke-width="5"/>
<path d="M1089.6,763.5 L1069.7,855 M1144.5,763.5 L1164.3,855"/>
<path d="M1023.8,855.4 L1210,855.4" stroke-width="5.8"/>
<path d="M1088,772.6 L1150.8,795.8 M1146,772.6 L1083.4,795.8" stroke-width="4.8"/>
<path d="M1081.4,805.6 L1158,835 M1152.6,805.6 L1076,835" stroke-width="4.8"/>
<path d="M1048,714.2 L1048,739.2" stroke-width="5"/>
<path d="M1042.4,726.2 L1053.6,726.2 M1042.4,735.4 L1053.6,735.4" stroke-width="4.6"/>
<path d="M1048,762.2 L1048,787.6" stroke-width="5"/>
<path d="M1042.4,774.5 L1053.6,774.5 M1042.4,783.7 L1053.6,783.7" stroke-width="4.6"/>
<path d="M1185.9,714.2 L1185.9,739.2" stroke-width="5"/>
<path d="M1180.3,726.2 L1191.5,726.2 M1180.3,735.4 L1191.5,735.4" stroke-width="4.6"/>
<path d="M1185.9,762.2 L1185.9,787.6" stroke-width="5"/>
<path d="M1180.3,774.5 L1191.5,774.5 M1180.3,783.7 L1191.5,783.7" stroke-width="4.6"/>
</g>
<g fill="#5b5a5a"><circle cx="1104.7" cy="843.4" r="2.8"/><circle cx="1116.8" cy="843.4" r="2.8"/><circle cx="1128.9" cy="843.4" r="2.8"/></g>
<g id="factory">
<rect x="1042" y="1140.8" width="157.7" height="9.8" rx="1.2" fill="#5b5a5a"/>
<g fill="none" stroke="#5b5a5a" stroke-width="4.6" stroke-linejoin="round" stroke-linecap="round">
<path d="M1044.2,1142 L1044.2,1085.5 L1053.3,1034.4 L1064.7,1034.4 L1074.3,1086 L1074.3,1142"/>
<path d="M1074.6,1084.6 L1100.9,1061.6 L1100.9,1089 L1133.1,1061.6 L1133.1,1089 L1165.1,1061.6 L1165.1,1089 L1197.3,1061.6 L1197.3,1142"/>
<path d="M1058.9,1026.6 L1058.9,1022 Q1058.9,1015.4 1065.5,1015.2 C1073,1015 1074.5,1025 1081.8,1025 C1089,1025 1089.5,1015.6 1096.8,1015.6 C1104,1015.6 1104.5,1025 1111.8,1025 C1118.5,1025 1120,1017.5 1124.6,1015" stroke-width="4" stroke-linecap="butt"/>
</g>
<path d="M1050.1,1046.6 L1067.8,1046.6 L1070.7,1061.7 L1047.4,1061.7 Z" fill="#5b5a5a"/>
<g fill="#5b5a5a">
<rect x="1056.6" y="1104.2" width="5.1" height="4.6"/>
<rect x="1056.6" y="1113.9" width="5.1" height="4.6"/>
<rect x="1056.6" y="1123.7" width="5.1" height="4.6"/>
<rect x="1088.7" y="1104.2" width="14.5" height="9.2"/>
<rect x="1108.4" y="1104.2" width="14.5" height="9.2"/>
<rect x="1128.1" y="1104.2" width="14.5" height="9.2"/>
<rect x="1147.9" y="1104.2" width="14.5" height="9.2"/>
<rect x="1167.7" y="1104.2" width="14.5" height="9.2"/>
<rect x="1088.7" y="1118.8" width="14.5" height="9.2"/>
<rect x="1108.4" y="1118.8" width="14.5" height="9.2"/>
<rect x="1128.1" y="1118.8" width="14.5" height="9.2"/>
<rect x="1147.9" y="1118.8" width="14.5" height="9.2"/>
<rect x="1167.7" y="1118.8" width="14.5" height="9.2"/>
</g>
</g>
<g id="battery" fill="none" stroke="#5b5a5a" stroke-width="5.8" stroke-linejoin="round" stroke-linecap="round">
<path d="M82.6,716 L82.6,703 Q82.6,691 94.6,691 L136,691 Q148,691 148,703 L148,716"/>
<path d="M93,716 L93,706 Q93,702 97,702 L133,702 Q137,702 137,706 L137,716"/>
<path d="M44,716 L44,707.5 Q44,705 46.5,705 L68.5,705 Q71,705 71,707.5 L71,716"/>
<path d="M159.2,716 L159.2,707.5 Q159.2,705 161.7,705 L183.8,705 Q186.3,705 186.3,707.5 L186.3,716"/>
<rect x="30" y="718.7" width="170.1" height="16.4" rx="1.8" fill="#fff"/>
<path d="M38.2,737 L38.2,821 M192.1,737 L192.1,821" stroke-linecap="butt"/>
<rect x="30" y="822.6" width="170.1" height="22" rx="1.8" fill="#fff"/>
<path d="M48.8,823 L48.8,844.4 M65.4,823 L65.4,844.4 M81.9,823 L81.9,844.4 M98.5,823 L98.5,844.4 M115,823 L115,844.4 M131.5,823 L131.5,844.4 M148,823 L148,844.4 M164.5,823 L164.5,844.4 M181,823 L181,844.4" stroke-linecap="butt"/>
<path d="M109.3,748.3 L127,748.3 L116.8,767.5 L137,767.5 L102.2,809.2 L112,779.3 L92.6,779.3 Z" stroke-width="4.8"/>
</g>
<g id="diesel-generator">
<g transform="translate(376,968) scale(0.08370)" fill="none" stroke-linecap="round" stroke-linejoin="round">
<path d="M325,1010 A275,299 0 0 1 548,691" stroke="#343132" stroke-width="11.95"/>
<path d="M342,1010 A258,281 0 0 1 548,710" stroke="#343132" stroke-width="11.95"/>
<path d="M359,1010 A241,262 0 0 1 548,730" stroke="#343132" stroke-width="11.95"/>
<path d="M376,1010 A224,244 0 0 1 548,749" stroke="#343132" stroke-width="11.95"/>
<path d="M393,1010 A207,225 0 0 1 548,768" stroke="#343132" stroke-width="11.95"/>
<path d="M410,1010 A190,207 0 0 1 548,787" stroke="#343132" stroke-width="11.95"/>
<path d="M427,1010 A173,188 0 0 1 548,806" stroke="#343132" stroke-width="11.95"/>
<path d="M325,1010 A275,299 0 0 0 400,1195" stroke="#343132" stroke-width="13.74"/>
<path d="M355,1010 A245,267 0 0 0 440,1195" stroke="#343132" stroke-width="13.74"/>
<path d="M330,1040 L560,1040 L560,1000 L345,1000" fill="#fff" stroke="#343132" stroke-width="13.74"/>
<path d="M425,985 L445,880 L470,985" fill="#fff" stroke="#343132" stroke-width="13.74"/>
<path d="M118,1195 L110,432 L235,387 L625,437" stroke="#636365" stroke-width="27.48"/>
<path d="M237,402 L242,1195" stroke="#343132" stroke-width="13.74"/>
<path d="M112,434 L237,402 L548,462" stroke="#343132" stroke-width="13.74"/>
<path d="M265,495 L545,437 M285,530 L548,473 M265,495 L285,530" stroke="#343132" stroke-width="13.74"/>
<path d="M240,570 L548,570" stroke="#343132" stroke-width="13.74"/>
<path d="M590,655 L655,650 L655,850" stroke="#343132" stroke-width="13.74"/>
<path d="M548,455 L552,850 Q556,905 620,905 L745,905 M586,450 L590,835 Q592,868 626,870 L770,866" stroke="#343132" stroke-width="13.74"/>
<path d="M242,1050 L1150,1050 M242,1076 L1135,1080" stroke="#343132" stroke-width="13.74"/>
<path d="M565,1085 L565,1195 M820,1085 L820,1195 M845,1085 L845,1195 M1120,1060 L1120,1195 M1150,1050 L1150,1195" stroke="#343132" stroke-width="13.74"/>
<path d="M335,1090 L430,1195 M550,1090 L455,1195" stroke="#343132" stroke-width="13.74"/>
<path d="M625,440 Q598,570 700,690 L805,765 L905,800" stroke="#343132" stroke-width="13.74"/>
<path d="M662,418 Q640,545 742,662 L840,735" stroke="#343132" stroke-width="13.74"/>
<path d="M700,398 Q690,520 772,640 L800,700" stroke="#343132" stroke-width="13.74"/>
<path d="M738,385 Q728,480 792,600" stroke="#343132" stroke-width="13.74"/>
<path d="M765,375 Q760,440 790,520" stroke="#343132" stroke-width="13.74"/>
<path d="M625,437 Q700,350 772,335 Q812,295 872,293 L1030,300 Q1062,305 1063,340 L1063,548 L1085,548 L1088,525 L1300,520" stroke="#636365" stroke-width="27.48"/>
<path d="M775,345 L792,606 L962,606" stroke="#343132" stroke-width="13.74"/>
<path d="M962,340 Q962,332 972,332 Q982,332 982,340 L982,372 Q982,380 972,380 Q962,380 962,372 Z" stroke="#343132" stroke-width="13.74"/>
<path d="M1300,520 L1342,515 L1340,165 Q1345,135 1400,130 L1580,115 Q1660,75 1804,88" stroke="#636365" stroke-width="27.48"/>
<path d="M1438,172 Q1438,164 1450,164 Q1462,164 1462,172 L1462,200 Q1462,208 1450,208 Q1438,208 1438,200 Z" stroke="#343132" stroke-width="13.74"/>
<path d="M1390,150 L1392,505" stroke="#343132" stroke-width="13.74"/>
<path d="M1345,520 Q1500,555 1660,522 Q1500,495 1345,520 M1440,555 L1600,552 M1440,555 L1425,590 M1600,552 L1585,600" stroke="#343132" stroke-width="13.74"/>
<path d="M1575,130 Q1470,300 1560,470 M1650,108 Q1560,290 1650,470 M1705,100 Q1625,290 1700,470 M1785,95 Q1715,270 1762,405" stroke="#343132" stroke-width="13.74"/>
<path d="M1660,478 L1662,545 Q1640,600 1565,640 M1712,478 L1712,560 Q1690,625 1605,685 M1762,405 L1804,430" stroke="#343132" stroke-width="13.74"/>
<path d="M1804,560 L1600,700 M1804,615 L1660,720" stroke="#343132" stroke-width="13.74"/>
<path d="M1088,548 L1120,548 L1125,600 M1300,522 L1250,560 Q1180,590 1150,650" stroke="#343132" stroke-width="13.74"/>
<path d="M962,580 Q895,690 945,805 M1000,575 Q940,690 990,815" stroke="#343132" stroke-width="13.74"/>
<path d="M915,650 L945,655 M910,700 L940,703 M915,750 L945,750 M925,790 L955,785" stroke="#343132" stroke-width="9.56"/>
<path d="M1040,600 Q985,705 1062,832 M1072,592 Q1018,700 1095,822 M1103,585 Q1050,690 1130,806 M1132,572 Q1085,680 1165,792" stroke="#343132" stroke-width="13.74"/>
<path d="M962,580 Q1040,560 1132,572 M945,805 Q1000,840 1062,832" stroke="#343132" stroke-width="13.74"/>
<path d="M1130,640 Q1200,560 1292,590 Q1400,620 1422,742 M1292,590 Q1268,660 1262,742 M1182,722 Q1150,640 1232,600 M1130,640 Q1120,700 1150,750" stroke="#343132" stroke-width="13.74"/>
<path d="M1422,742 Q1480,640 1560,652 Q1600,700 1612,742" stroke="#343132" stroke-width="13.74"/>
<path d="M1470,705 Q1495,695 1520,705 Q1495,722 1470,705 Z" fill="#4a4748" stroke="none"/>
<path d="M690,962 L1235,932 M700,992 L1240,962" stroke="#343132" stroke-width="13.74"/>
<path d="M704,940 L816,870 M719,964 L831,894 M704,940 Q698,958 719,964" stroke="#343132" stroke-width="13.74"/>
<path d="M808,935 L920,865 M823,959 L935,889 M808,935 Q802,953 823,959" stroke="#343132" stroke-width="13.74"/>
<path d="M912,930 L1024,860 M927,954 L1039,884 M912,930 Q906,948 927,954" stroke="#343132" stroke-width="13.74"/>
<path d="M1016,925 L1128,855 M1031,949 L1143,879 M1016,925 Q1010,943 1031,949" stroke="#343132" stroke-width="13.74"/>
<path d="M1120,920 L1232,850 M1135,944 L1247,874 M1120,920 Q1114,938 1135,944" stroke="#343132" stroke-width="13.74"/>
<path d="M745,995 L773,1048" stroke="#343132" stroke-width="13.74"/>
<path d="M845,990 L873,1048" stroke="#343132" stroke-width="13.74"/>
<path d="M945,985 L973,1048" stroke="#343132" stroke-width="13.74"/>
<path d="M1045,980 L1073,1048" stroke="#343132" stroke-width="13.74"/>
<path d="M1145,975 L1173,1048" stroke="#343132" stroke-width="13.74"/>
<path d="M1180,1040 Q1230,1060 1300,1045" stroke="#343132" stroke-width="13.74"/>
<path d="M1180,760 L1804,752 L1804,1010 L1265,1022 L1240,835 L1190,830 Z" fill="#fff" stroke="#343132" stroke-width="13.74"/>
<path d="M1180,760 L1240,765 L1804,755 M1240,765 L1255,1002 L1804,987 M1265,1022 L1804,1008" stroke="#343132" stroke-width="13.74"/>
<path d="M1180,760 L1190,830 L1240,835" stroke="#343132" stroke-width="13.74"/>
<path d="M1255,967 L1804,957 M1392,770 L1396,962 M1416,770 L1420,962 M1640,768 L1645,958" stroke="#343132" stroke-width="13.74"/>
<path d="M1440,830 L1622,828 M1440,878 L1622,876 M1440,925 L1622,922" stroke="#343132" stroke-width="13.74"/>
<path d="M1670,790 L1750,790 L1750,825 L1700,825 L1700,958" stroke="#343132" stroke-width="13.74"/>
</g>
<g transform="translate(516,968) scale(0.08370)" fill="none" stroke-linecap="round" stroke-linejoin="round">
<path d="M0,88 Q120,58 215,85 Q335,150 350,300 Q342,420 252,472 L198,590 L232,572" stroke="#636365" stroke-width="27.48"/>
<path d="M200,78 C300,90 330,200 322,290 C312,390 255,452 190,446 C110,436 55,330 66,230 C76,140 130,72 200,78 Z" stroke="#343132" stroke-width="13.74"/>
<path d="M62,110 Q-12,260 50,412" stroke="#343132" stroke-width="13.74"/>
<path d="M75,420 L150,560 M122,410 L197,545 M75,420 L122,410" stroke="#343132" stroke-width="13.74"/>
<path d="M190,590 L0,745 M150,560 L0,682 M228,578 L35,740" stroke="#343132" stroke-width="13.74"/>
<path d="M0,470 L42,470 L42,600 L0,622 M0,500 L20,500 L20,592" stroke="#343132" stroke-width="13.74"/>
<path d="M100,652 Q200,600 282,662 Q320,700 336,746 L376,746 L381,946 L1090,946 L1095,1195" stroke="#636365" stroke-width="27.48"/>
<path d="M0,745 L130,640" stroke="#343132" stroke-width="13.74"/>
<path d="M232,716 Q256,708 280,718 Q256,734 232,716 Z" fill="#4a4748" stroke="none"/>
<path d="M0,760 L340,750 M160,765 L165,950 M0,950 L340,945" stroke="#343132" stroke-width="13.74"/>
<path d="M180,790 L336,786 M180,838 L336,836 M180,880 L336,878 M180,924 L336,922 M180,790 L182,945" stroke="#343132" stroke-width="13.74"/>
<path d="M0,790 L70,790 L70,830 L22,830 L22,950" stroke="#343132" stroke-width="13.74"/>
<path d="M0,978 L268,978 M0,1002 L266,1002 M0,1032 L266,1032" stroke="#343132" stroke-width="13.74"/>
<path d="M270,978 L270,1195 M270,978 L1066,978 M1066,978 L1068,1195 M650,978 L650,1195" stroke="#343132" stroke-width="13.74"/>
<path d="M690,986 L815,986 L815,1176 L690,1176 Z" stroke="#343132" stroke-width="13.74"/>
<path d="M150,1040 Q160,1120 270,1150 M20,1060 Q80,1080 90,1122 L170,1132 L180,1170 L270,1190" stroke="#343132" stroke-width="13.74"/>
<path d="M0,1090 Q60,1110 80,1160 L160,1190" stroke="#343132" stroke-width="13.74"/>
</g>
<g transform="translate(376,1050) scale(0.08370)" fill="none" stroke-linecap="round" stroke-linejoin="round">
<path d="M122,0 L135,588" stroke="#636365" stroke-width="27.48"/>
<path d="M92,590 L102,772 L1400,1195" stroke="#636365" stroke-width="27.48"/>
<path d="M92,590 L142,600" stroke="#636365" stroke-width="27.48"/>
<path d="M242,0 L247,592" stroke="#343132" stroke-width="13.74"/>
<path d="M330,0 Q352,120 432,232 M352,0 Q380,115 452,212" stroke="#343132" stroke-width="13.74"/>
<path d="M550,100 L282,390 L287,592 M602,202 L372,430 L377,805 M282,390 L372,430 M470,180 L330,340" stroke="#343132" stroke-width="13.74"/>
<path d="M142,600 L362,668 M142,612 L137,752 L352,822 M352,600 L352,822 M397,662 L397,832" stroke="#343132" stroke-width="13.74"/>
<path d="M397,672 L1804,1087 M402,700 L1804,1117" stroke="#343132" stroke-width="13.74"/>
<path d="M402,832 L1520,1195" stroke="#343132" stroke-width="13.74"/>
<path d="M482,522 L602,322 Q622,290 662,290 L1310,326 Q1342,326 1372,300 L1502,206" stroke="#343132" stroke-width="13.74"/>
<path d="M522,532 L632,352 Q646,326 682,326 L1322,361 Q1362,361 1402,331 L1532,236" stroke="#343132" stroke-width="13.74"/>
<path d="M412,440 L482,522 M412,480 L522,532 M412,440 L412,540 L470,545" stroke="#343132" stroke-width="13.74"/>
<path d="M790,345 L1150,382" stroke="#343132" stroke-width="20.31"/>
<path d="M800,360 L800,470 Q850,488 900,470 L900,366 M920,372 L920,480 Q970,496 1020,480 L1020,378 M1040,384 L1040,490 Q1090,502 1140,490 L1140,390" stroke="#343132" stroke-width="13.74"/>
<path d="M650,350 L660,420 L760,440 L770,360" stroke="#343132" stroke-width="13.74"/>
<path d="M1160,470 Q1160,430 1202,430 L1335,470 M1160,470 L1166,540 Q1182,560 1212,560 L1335,582" stroke="#343132" stroke-width="13.74"/>
<path d="M1365,470 C1395,470 1405,500 1405,528 C1405,558 1390,582 1362,582 C1335,582 1325,555 1325,525 C1325,495 1340,470 1365,470 Z" stroke="#343132" stroke-width="20.31"/>
<path d="M1205,425 Q1225,405 1250,420 Q1262,440 1245,455 Q1215,462 1205,425 Z M1250,420 L1290,432 Q1305,450 1285,462 L1245,455" stroke="#343132" stroke-width="13.74"/>
<path d="M412,560 L720,492 M700,500 L1400,600 M720,528 L1395,632 M690,575 L740,490" stroke="#343132" stroke-width="13.74"/>
<path d="M752,570 Q748,610 770,612 Q790,610 792,575" stroke="#343132" stroke-width="13.74"/>
<path d="M842,585 Q838,625 860,627 Q880,625 882,590" stroke="#343132" stroke-width="13.74"/>
<path d="M932,600 Q928,640 950,642 Q970,640 972,605" stroke="#343132" stroke-width="13.74"/>
<path d="M960,682 L1140,604 L1262,666 L1142,792 L1002,752 Z M1002,752 L1130,690 L1262,666 M1130,690 L1142,792" stroke="#343132" stroke-width="13.74"/>
<path d="M560,692 L662,590 M1190,852 L1342,650 L1400,600 M1382,650 L1442,862 M1342,650 L1382,650" stroke="#343132" stroke-width="13.74"/>
<path d="M1180,130 Q1170,90 1232,85 L1482,105 M1180,130 Q1192,202 1262,216 L1482,160 M1292,90 Q1262,150 1292,210" stroke="#343132" stroke-width="13.74"/>
<path d="M1522,0 L1522,182 Q1512,232 1452,282 M1562,0 L1562,202 M1490,100 L1580,100 L1580,125 L1490,125 Z" stroke="#343132" stroke-width="13.74"/>
<path d="M1650,60 Q1650,150 1720,200 M1700,60 Q1700,130 1760,170" stroke="#343132" stroke-width="13.74"/>
<path d="M1562,262 Q1442,400 1452,640 L1462,882 M1602,232 Q1502,420 1522,700 M1582,462 L1602,882" stroke="#343132" stroke-width="13.74"/>
<path d="M1804,232 Q1640,380 1652,640 Q1660,800 1740,890 M1804,292 Q1682,400 1692,640 Q1700,790 1762,870" stroke="#343132" stroke-width="13.74"/>
</g>
<g transform="translate(516,1050) scale(0.08370)" fill="none" stroke-linecap="round" stroke-linejoin="round">
<path d="M100,242 Q-22,420 10,700 Q22,800 72,862 M132,252 Q20,430 42,700 Q50,780 90,840 M100,242 L270,252" stroke="#343132" stroke-width="13.74"/>
<path d="M92,650 L98,932 M104,650 Q134,800 197,842 Q162,900 102,932" stroke="#343132" stroke-width="13.74"/>
<path d="M217,650 L223,932 M229,650 Q259,800 322,842 Q287,900 227,932" stroke="#343132" stroke-width="13.74"/>
<path d="M347,650 L353,932 M359,650 Q389,800 452,842 Q417,900 357,932" stroke="#343132" stroke-width="13.74"/>
<path d="M480,700 L625,722 Q650,850 705,935 L560,912 Q500,820 480,700 Z" fill="#4a4748" stroke="none"/>
<path d="M500,740 L630,765 M515,790 L645,815 M535,840 L665,865 M555,885 L690,905" stroke="#343132" stroke-width="9.56"/>
<path d="M270,0 L270,520 L650,572 L650,0 M270,250 L650,272 L1066,240 M690,0 L690,196 L812,196 L812,0" stroke="#343132" stroke-width="13.74"/>
<path d="M1080,0 L1086,362" stroke="#636365" stroke-width="27.48"/>
<path d="M448,38 L385,236 L440,212 L392,442 L522,140 L458,172 Z" fill="#636365" stroke="none"/>
<path d="M900,300 Q690,330 690,640 Q700,930 900,962 M922,336 Q745,380 745,640 Q760,900 932,936 M990,352 Q782,400 782,640 Q800,880 962,922" stroke="#343132" stroke-width="13.74"/>
<path d="M900,300 L1042,372 M650,572 L700,520" stroke="#343132" stroke-width="13.74"/>
<path d="M1090,365 C1200,365 1255,520 1255,650 C1255,790 1190,935 1085,935 C985,935 925,800 925,650 C925,500 990,365 1090,365 Z" fill="#fff" stroke="#636365" stroke-width="27.48"/>
<path d="M1001,468 L1178,412" stroke="#343132" stroke-width="20.31"/>
<path d="M975,518 L1204,462" stroke="#343132" stroke-width="20.31"/>
<path d="M959,568 L1220,512" stroke="#343132" stroke-width="20.31"/>
<path d="M949,618 L1230,562" stroke="#343132" stroke-width="20.31"/>
<path d="M946,668 L1233,612" stroke="#343132" stroke-width="20.31"/>
<path d="M947,718 L1232,662" stroke="#343132" stroke-width="20.31"/>
<path d="M954,768 L1225,712" stroke="#343132" stroke-width="20.31"/>
<path d="M967,818 L1212,762" stroke="#343132" stroke-width="20.31"/>
<path d="M989,868 L1190,812" stroke="#343132" stroke-width="20.31"/>
<path d="M1027,918 L1152,862" stroke="#343132" stroke-width="20.31"/>
<path d="M1150,395 C1230,450 1262,560 1258,660 C1255,780 1215,880 1150,925" stroke="#636365" stroke-width="27.48"/>
<path d="M850,962 L856,1072 M972,940 L978,1087 M1042,950 L1047,1077 M1142,910 L1147,1032" stroke="#343132" stroke-width="13.74"/>
<path d="M1200,856 L1600,916 L1596,1078" stroke="#636365" stroke-width="27.48"/>
<path d="M1150,1032 L1560,936 M1560,936 L1560,1080 M1200,880 L1560,936" stroke="#343132" stroke-width="13.74"/>
<path d="M0,930 L420,1000 M0,960 L380,1030 M0,1000 L300,1060" stroke="#343132" stroke-width="13.74"/>
<path d="M280,1082 L700,962 M340,1102 L760,978 M560,1150 L980,1042 M620,1172 L1040,1057 M420,1000 L560,910" stroke="#343132" stroke-width="13.74"/>
<path d="M0,1040 L700,1195 M850,1072 L1150,1032 M978,1087 L1560,960" stroke="#343132" stroke-width="13.74"/>
</g>
<g transform="translate(440,1100) scale(0.08333)" fill="none" stroke-linecap="round" stroke-linejoin="round">
<path d="M0,392 L1510,962 L1612,926 L1680,818 L2280,556 L2400,594 L2512,482" stroke="#636365" stroke-width="27.6"/>
<path d="M0,372 L1540,906 L1590,842 L1586,657" stroke="#343132" stroke-width="13.8"/>
<path d="M1586,657 L2480,345 M1590,842 L2280,540 M2120,470 L2120,610" stroke="#343132" stroke-width="13.8"/>
<path d="M765,420 L765,655 M880,452 L880,742 M910,466 L910,702" stroke="#343132" stroke-width="13.8"/>
<path d="M790,372 L1040,300 M860,396 L1110,326 M960,412 L1352,312 M1040,440 L1420,336 M1180,478 L1620,360 M1250,500 L1700,380" stroke="#343132" stroke-width="13.8"/>
</g>
</g>
<g id="labels">
<text x="46.6" y="590.3" textLength="146" lengthAdjust="spacing">Solar Panel</text>
<text x="436.2" y="590.3" textLength="144.6" lengthAdjust="spacing">PV Inverter</text>
<text x="42.7" y="891.8" textLength="166.5" lengthAdjust="spacing">Battery Bank</text>
<text x="407.5" y="895" textLength="216.7" lengthAdjust="spacing">Power Converter</text>
<text x="214.2" y="1193" textLength="220.5" lengthAdjust="spacing">Diesel Generator</text>
<text x="1288.6" y="135.3" textLength="270" lengthAdjust="spacing">Energy Management</text>
<text x="1288.8" y="169.2" textLength="93" lengthAdjust="spacing">System</text>
<text x="1261" y="433.6" textLength="201.5" lengthAdjust="spacing">AC Distribution</text>
<text x="1260.7" y="467.7" textLength="101" lengthAdjust="spacing">Cabinet</text>
<text x="1221.4" y="821.7" textLength="219.6" lengthAdjust="spacing">Distribution Line</text>
<text x="1253.1" y="1130.6" textLength="64.5" lengthAdjust="spacing">Load</text>
<text x="1612" y="1104.7" textLength="203" lengthAdjust="spacing">Conmunication</text>
<text x="1612.4" y="1145.8" textLength="142.2" lengthAdjust="spacing">Power Line</text>
</g>
<g id="legend" fill="none">
<line x1="1526.2" y1="1096.7" x2="1601.8" y2="1096.7" stroke="#189bd7" stroke-width="2" stroke-dasharray="4.2 1.75"/>
<line x1="1525" y1="1138.7" x2="1598.3" y2="1138.7" stroke="#e84a3b" stroke-width="2"/>
</g>
</svg>
</body>
</html>
